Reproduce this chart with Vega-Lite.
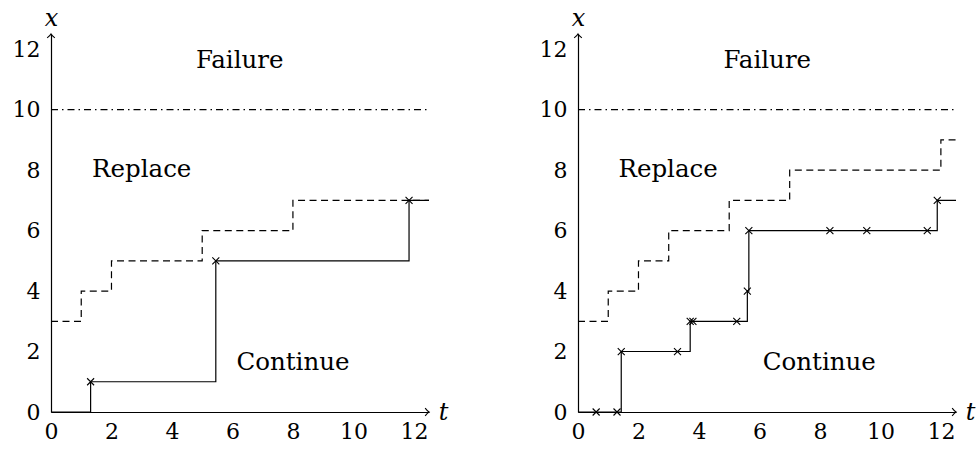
{
  "$schema": "https://vega.github.io/schema/vega-lite/v6.json",
  "padding": {"left": 12, "top": 6, "right": 5, "bottom": 5},
  "background": "white",
  "config": {
    "view": {"stroke": null},
    "font": "DejaVu Serif",
    "concat": {"spacing": 149},
    "axis": {
      "domainColor": "black",
      "domainWidth": 1.2,
      "ticks": false,
      "tickSize": 0,
      "grid": false,
      "labelColor": "black",
      "labelFont": "DejaVu Serif",
      "labelFontSize": 22,
      "titleFont": "DejaVu Serif",
      "titleFontSize": 24,
      "titleFontStyle": "italic",
      "titleFontWeight": "normal",
      "titleColor": "black",
      "titleAngle": 0,
      "titleAlign": "center",
      "titleBaseline": "middle"
    }
  },
  "datasets": {
    "limit": [{"t": 0, "t2": 12.5, "x": 10}],
    "arrows": [{"t": 12.5, "x": 0, "dir": "right"}, {"t": 0, "x": 12.5, "dir": "up"}],
    "labelsL": [
      {"t": 6.24, "x": 11.6, "label": "Failure"},
      {"t": 3.0, "x": 8.0, "label": "Replace"},
      {"t": 8.0, "x": 1.63, "label": "Continue"}
    ],
    "labelsR": [
      {"t": 6.26, "x": 11.6, "label": "Failure"},
      {"t": 2.98, "x": 8.0, "label": "Replace"},
      {"t": 7.98, "x": 1.63, "label": "Continue"}
    ],
    "thresholdL": [
      {"t": 0, "x": 3}, {"t": 1, "x": 4}, {"t": 2, "x": 5}, {"t": 5, "x": 6}, {"t": 8, "x": 7}, {"t": 12.5, "x": 7}
    ],
    "thresholdR": [
      {"t": 0, "x": 3}, {"t": 1, "x": 4}, {"t": 2, "x": 5}, {"t": 3, "x": 6}, {"t": 5, "x": 7}, {"t": 7, "x": 8}, {"t": 12, "x": 9}, {"t": 12.5, "x": 9}
    ],
    "pathL": [
      {"t": 0, "x": 0}, {"t": 1.31, "x": 1}, {"t": 5.45, "x": 5}, {"t": 11.84, "x": 7}, {"t": 12.5, "x": 7}
    ],
    "pathR": [
      {"t": 0, "x": 0}, {"t": 1.43, "x": 2}, {"t": 3.71, "x": 3}, {"t": 5.6, "x": 4}, {"t": 5.65, "x": 6}, {"t": 11.88, "x": 7}, {"t": 12.5, "x": 7}
    ],
    "obsL": [
      {"t": 1.31, "x": 1}, {"t": 5.45, "x": 5}, {"t": 11.84, "x": 7}
    ],
    "obsR": [
      {"t": 0.6, "x": 0}, {"t": 1.29, "x": 0}, {"t": 1.43, "x": 2}, {"t": 3.29, "x": 2}, {"t": 3.71, "x": 3}, {"t": 3.8, "x": 3}, {"t": 5.25, "x": 3}, {"t": 5.6, "x": 4}, {"t": 5.65, "x": 6}, {"t": 8.33, "x": 6}, {"t": 9.55, "x": 6}, {"t": 11.55, "x": 6}, {"t": 11.88, "x": 7}
    ]
  },
  "hconcat": [
    {
      "width": 378,
      "height": 378,
      "encoding": {
        "x": {"field": "t", "type": "quantitative", "scale": {"domain": [0, 12.5], "nice": false, "zero": false},
              "axis": {"values": [0, 2, 4, 6, 8, 10, 12], "title": "t", "titleX": 392, "titleY": 0, "labelPadding": 9, "labelFlush": false, "labelOverlap": false}},
        "y": {"field": "x", "type": "quantitative", "scale": {"domain": [0, 12.5], "nice": false, "zero": false},
              "axis": {"values": [0, 2, 4, 6, 8, 10, 12], "title": "x", "titleX": 0, "titleY": -16, "labelPadding": 11, "labelFlush": false, "labelOverlap": false, "labelBaseline": "middle"}}
      },
      "layer": [
        {"data": {"name": "limit"}, "mark": {"type": "rule", "color": "black", "strokeWidth": 1.2, "strokeDash": [7, 4, 1.5, 4]}, "encoding": {"x2": {"field": "t2"}}},
        {"data": {"name": "thresholdL"}, "mark": {"type": "line", "interpolate": "step-after", "color": "black", "strokeWidth": 1.2, "strokeDash": [7, 4.5]}},
        {"data": {"name": "pathL"}, "mark": {"type": "line", "interpolate": "step-after", "color": "black", "strokeWidth": 1.2}},
        {"data": {"name": "obsL"}, "mark": {"type": "point", "shape": "M-1,-1L1,1M-1,1L1,-1", "filled": false, "color": "black", "strokeWidth": 1.1, "size": 49, "opacity": 1}},
        {"data": {"name": "arrows"}, "mark": {"type": "point", "filled": false, "color": "black", "strokeWidth": 1.1, "size": 49, "opacity": 1},
         "encoding": {"shape": {"field": "dir", "type": "nominal", "scale": {"domain": ["right", "up"], "range": ["M-1.1,-1.1Q-0.4,-0.2 0,0Q-0.4,0.2 -1.1,1.1", "M-1.1,1.1Q-0.2,0.4 0,0Q0.2,0.4 1.1,1.1"]}, "legend": null}}},
        {"data": {"name": "labelsL"}, "mark": {"type": "text", "font": "DejaVu Serif", "fontSize": 24.5, "color": "black", "align": "center", "baseline": "middle"}, "encoding": {"text": {"field": "label"}}}
      ]
    },
    {
      "width": 378,
      "height": 378,
      "encoding": {
        "x": {"field": "t", "type": "quantitative", "scale": {"domain": [0, 12.5], "nice": false, "zero": false},
              "axis": {"values": [0, 2, 4, 6, 8, 10, 12], "title": "t", "titleX": 392, "titleY": 0, "labelPadding": 9, "labelFlush": false, "labelOverlap": false}},
        "y": {"field": "x", "type": "quantitative", "scale": {"domain": [0, 12.5], "nice": false, "zero": false},
              "axis": {"values": [0, 2, 4, 6, 8, 10, 12], "title": "x", "titleX": 0, "titleY": -16, "labelPadding": 11, "labelFlush": false, "labelOverlap": false, "labelBaseline": "middle"}}
      },
      "layer": [
        {"data": {"name": "limit"}, "mark": {"type": "rule", "color": "black", "strokeWidth": 1.2, "strokeDash": [7, 4, 1.5, 4]}, "encoding": {"x2": {"field": "t2"}}},
        {"data": {"name": "thresholdR"}, "mark": {"type": "line", "interpolate": "step-after", "color": "black", "strokeWidth": 1.2, "strokeDash": [7, 4.5]}},
        {"data": {"name": "pathR"}, "mark": {"type": "line", "interpolate": "step-after", "color": "black", "strokeWidth": 1.2}},
        {"data": {"name": "obsR"}, "mark": {"type": "point", "shape": "M-1,-1L1,1M-1,1L1,-1", "filled": false, "color": "black", "strokeWidth": 1.1, "size": 49, "opacity": 1}},
        {"data": {"name": "arrows"}, "mark": {"type": "point", "filled": false, "color": "black", "strokeWidth": 1.1, "size": 49, "opacity": 1},
         "encoding": {"shape": {"field": "dir", "type": "nominal", "scale": {"domain": ["right", "up"], "range": ["M-1.1,-1.1Q-0.4,-0.2 0,0Q-0.4,0.2 -1.1,1.1", "M-1.1,1.1Q-0.2,0.4 0,0Q0.2,0.4 1.1,1.1"]}, "legend": null}}},
        {"data": {"name": "labelsR"}, "mark": {"type": "text", "font": "DejaVu Serif", "fontSize": 24.5, "color": "black", "align": "center", "baseline": "middle"}, "encoding": {"text": {"field": "label"}}}
      ]
    }
  ],
  "resolve": {"scale": {"x": "independent", "y": "independent"}},
  "bounds": "flush"
}
